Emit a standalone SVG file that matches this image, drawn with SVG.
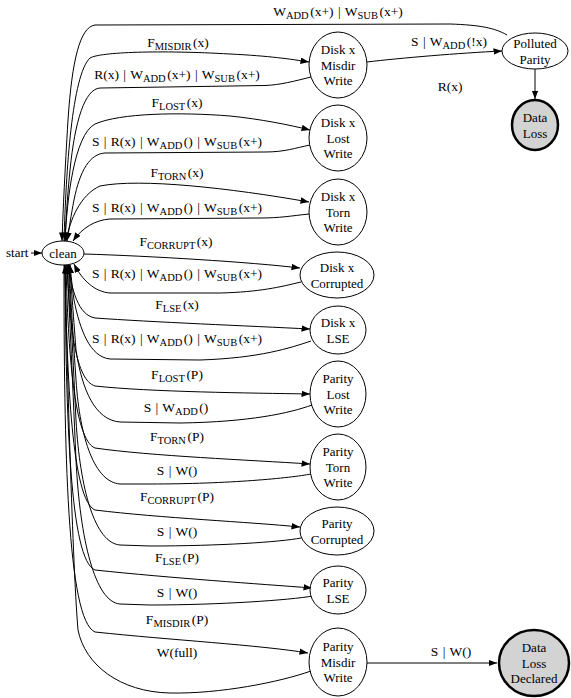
<svg xmlns="http://www.w3.org/2000/svg" width="571" height="698" viewBox="0 0 571 698">
<style>
text{font-family:"Liberation Serif","Times New Roman",serif;font-size:13px;fill:#000}
.n text{text-anchor:middle}
.lbl{text-anchor:middle;font-size:13.5px;word-spacing:1px}
.sub{font-size:10.5px}
ellipse{fill:#fff;stroke:#000;stroke-width:1}
ellipse.bad{fill:#d3d3d3;stroke-width:2.5}
#edges path{fill:none;stroke:#000;stroke-width:1;marker-end:url(#arr)}
</style>
<defs>
<marker id="arr" markerUnits="userSpaceOnUse" markerWidth="9" markerHeight="7" refX="8.5" refY="3.25" orient="auto">
<path d="M0,0 L8.5,3.25 L0,6.5 z" fill="#000"/>
</marker>
</defs>
<rect width="571" height="698" fill="#fff"/>

<g id="edges">
<path d="M31,253 L42,253"/>
<path d="M507,35 C495,28 480,25 450,24 L95,25 C80,27 72,60 68,120 C65,170 63,210 62,241"/>
<path d="M64,241 C66,170 72,75 90,58 C100,52 160,50 230,54 C270,56 290,59 309,62"/>
<path d="M311,77 C295,81 280,85 265,85.5 L100,88 C85,89 75,120 70,170 C67,200 66,220 65,241"/>
<path d="M65,241 C67,200 74,135 95,124 C120,113 180,112 230,116 C260,119 290,125 310,130"/>
<path d="M310,145 C295,148 285,152 265,152 L105,153 C90,154 80,170 74,200 C71,215 69,230 67,241"/>
<path d="M66,241 C70,220 80,195 100,186 C140,178 230,188 309,202"/>
<path d="M309,214 C290,216 280,218 260,218 L110,219 C95,220 82,228 73,241"/>
<path d="M84,254 C150,256 250,262 300,268"/>
<path d="M301,282 C280,287 260,292 220,293 L110,293 C95,292 82,280 74,264"/>
<path d="M68,265 C72,290 78,315 95,318 C150,322 250,326 310,329"/>
<path d="M311,341 C290,348 260,358 200,360 L110,359 C90,357 80,330 74,300 C72,285 71,275 70,265"/>
<path d="M67,265 C70,330 76,380 95,386 C150,392 250,393 310,394"/>
<path d="M312,405 C290,413 250,422 180,423 L120,422 C95,420 82,390 76,350 C73,310 71,285 70,265"/>
<path d="M66,265 C68,350 74,440 95,448 C150,456 250,460 310,464"/>
<path d="M311,474 C290,478 230,484 150,484 L120,484 C95,482 80,440 76,380 C72,320 70,285 69,265"/>
<path d="M65,265 C67,380 72,500 95,510 C160,518 250,522 300,527"/>
<path d="M301,538 C280,542 220,546 150,546 L120,545 C95,543 80,490 76,420 C72,340 70,290 68,265"/>
<path d="M65,265 C66,420 70,560 95,570 C170,578 260,584 312,588"/>
<path d="M313,596 C290,600 220,605 150,605 L120,604 C95,602 80,540 76,460 C72,370 69,300 67,265"/>
<path d="M64,265 C64,450 67,620 95,632 C170,640 260,645 308,653"/>
<path d="M311,671 C280,682 220,694 170,693 C120,692 85,665 78,630 C72,560 66,320 65,265"/>
<path d="M367,62 C400,58 460,53 502,51"/>
<path d="M535,69 L535,99"/>
<path d="M367,663 L497,663"/>
</g>

<g id="edge-labels">
<text class="lbl" x="338" y="16">W<tspan class="sub" dy="3">ADD</tspan><tspan dx="1.5" dy="-3">(x+) | W</tspan><tspan class="sub" dy="3">SUB</tspan><tspan dx="1.5" dy="-3">(x+)</tspan></text>
<text class="lbl" x="178" y="47">F<tspan class="sub" dy="3">MISDIR</tspan><tspan dx="1.5" dy="-3">(x)</tspan></text>
<text class="lbl" x="177" y="79">R(x) | W<tspan class="sub" dy="3">ADD</tspan><tspan dx="1.5" dy="-3">(x+) | W</tspan><tspan class="sub" dy="3">SUB</tspan><tspan dx="1.5" dy="-3">(x+)</tspan></text>
<text class="lbl" x="449" y="46">S | W<tspan class="sub" dy="3">ADD</tspan><tspan dx="1.5" dy="-3">(!x)</tspan></text>
<text class="lbl" x="450" y="91">R(x)</text>
<text class="lbl" x="177" y="107">F<tspan class="sub" dy="3">LOST</tspan><tspan dx="1.5" dy="-3">(x)</tspan></text>
<text class="lbl" x="177" y="146">S | R(x) | W<tspan class="sub" dy="3">ADD</tspan><tspan dx="1.5" dy="-3">() | W</tspan><tspan class="sub" dy="3">SUB</tspan><tspan dx="1.5" dy="-3">(x+)</tspan></text>
<text class="lbl" x="177" y="177">F<tspan class="sub" dy="3">TORN</tspan><tspan dx="1.5" dy="-3">(x)</tspan></text>
<text class="lbl" x="177" y="212">S | R(x) | W<tspan class="sub" dy="3">ADD</tspan><tspan dx="1.5" dy="-3">() | W</tspan><tspan class="sub" dy="3">SUB</tspan><tspan dx="1.5" dy="-3">(x+)</tspan></text>
<text class="lbl" x="176" y="246">F<tspan class="sub" dy="3">CORRUPT</tspan><tspan dx="1.5" dy="-3">(x)</tspan></text>
<text class="lbl" x="177" y="278">S | R(x) | W<tspan class="sub" dy="3">ADD</tspan><tspan dx="1.5" dy="-3">() | W</tspan><tspan class="sub" dy="3">SUB</tspan><tspan dx="1.5" dy="-3">(x+)</tspan></text>
<text class="lbl" x="177" y="309">F<tspan class="sub" dy="3">LSE</tspan><tspan dx="1.5" dy="-3">(x)</tspan></text>
<text class="lbl" x="177" y="343">S | R(x) | W<tspan class="sub" dy="3">ADD</tspan><tspan dx="1.5" dy="-3">() | W</tspan><tspan class="sub" dy="3">SUB</tspan><tspan dx="1.5" dy="-3">(x+)</tspan></text>
<text class="lbl" x="177" y="379">F<tspan class="sub" dy="3">LOST</tspan><tspan dx="1.5" dy="-3">(P)</tspan></text>
<text class="lbl" x="176" y="412">S | W<tspan class="sub" dy="3">ADD</tspan><tspan dx="1.5" dy="-3">()</tspan></text>
<text class="lbl" x="177" y="441">F<tspan class="sub" dy="3">TORN</tspan><tspan dx="1.5" dy="-3">(P)</tspan></text>
<text class="lbl" x="177" y="475">S | W()</text>
<text class="lbl" x="177" y="501">F<tspan class="sub" dy="3">CORRUPT</tspan><tspan dx="1.5" dy="-3">(P)</tspan></text>
<text class="lbl" x="177" y="536">S | W()</text>
<text class="lbl" x="177" y="562">F<tspan class="sub" dy="3">LSE</tspan><tspan dx="1.5" dy="-3">(P)</tspan></text>
<text class="lbl" x="177" y="597">S | W()</text>
<text class="lbl" x="177" y="624">F<tspan class="sub" dy="3">MISDIR</tspan><tspan dx="1.5" dy="-3">(P)</tspan></text>
<text class="lbl" x="177" y="657">W(full)</text>
<text class="lbl" x="451" y="656">S | W()</text>
</g>

<g id="start"><text x="6" y="257">start</text></g>
<g id="clean" class="n"><ellipse cx="63" cy="253" rx="21" ry="12"/><text x="63" y="257.5">clean</text></g>
<g id="disk-misdir" class="n"><ellipse cx="338" cy="65" rx="29" ry="33"/><text x="338" y="54">Disk x</text><text x="338" y="69.5">Misdir</text><text x="338" y="85">Write</text></g>
<g id="disk-lost" class="n"><ellipse cx="338" cy="138" rx="29" ry="33"/><text x="338" y="127">Disk x</text><text x="338" y="142.5">Lost</text><text x="338" y="158">Write</text></g>
<g id="disk-torn" class="n"><ellipse cx="338" cy="212" rx="29" ry="33"/><text x="338" y="201">Disk x</text><text x="338" y="216.5">Torn</text><text x="338" y="232">Write</text></g>
<g id="disk-corrupted" class="n"><ellipse cx="337" cy="275" rx="37" ry="23"/><text x="337" y="271.5">Disk x</text><text x="337" y="287.5">Corrupted</text></g>
<g id="disk-lse" class="n"><ellipse cx="338" cy="330" rx="28" ry="24"/><text x="338" y="326.5">Disk x</text><text x="338" y="342.5">LSE</text></g>
<g id="parity-lost" class="n"><ellipse cx="338" cy="394" rx="28" ry="33"/><text x="338" y="383">Parity</text><text x="338" y="398.5">Lost</text><text x="338" y="414">Write</text></g>
<g id="parity-torn" class="n"><ellipse cx="338" cy="467" rx="28" ry="33"/><text x="338" y="456">Parity</text><text x="338" y="471.5">Torn</text><text x="338" y="487">Write</text></g>
<g id="parity-corrupted" class="n"><ellipse cx="337" cy="531" rx="37" ry="24"/><text x="337" y="527.5">Parity</text><text x="337" y="543.5">Corrupted</text></g>
<g id="parity-lse" class="n"><ellipse cx="338" cy="590" rx="28" ry="24"/><text x="338" y="586.5">Parity</text><text x="338" y="602.5">LSE</text></g>
<g id="parity-misdir" class="n"><ellipse cx="338" cy="662" rx="29" ry="34"/><text x="338" y="651">Parity</text><text x="338" y="666.5">Misdir</text><text x="338" y="682">Write</text></g>
<g id="polluted-parity" class="n"><ellipse cx="535" cy="51" rx="33" ry="18"/><text x="535" y="47.5">Polluted</text><text x="535" y="63.5">Parity</text></g>
<g id="data-loss" class="n"><ellipse class="bad" cx="535" cy="125" rx="23" ry="25"/><text x="535" y="121.5">Data</text><text x="535" y="137.5">Loss</text></g>
<g id="data-loss-declared" class="n"><ellipse class="bad" cx="534" cy="663" rx="35" ry="33"/><text x="534" y="652">Data</text><text x="534" y="667.5">Loss</text><text x="534" y="683">Declared</text></g>
</svg>
